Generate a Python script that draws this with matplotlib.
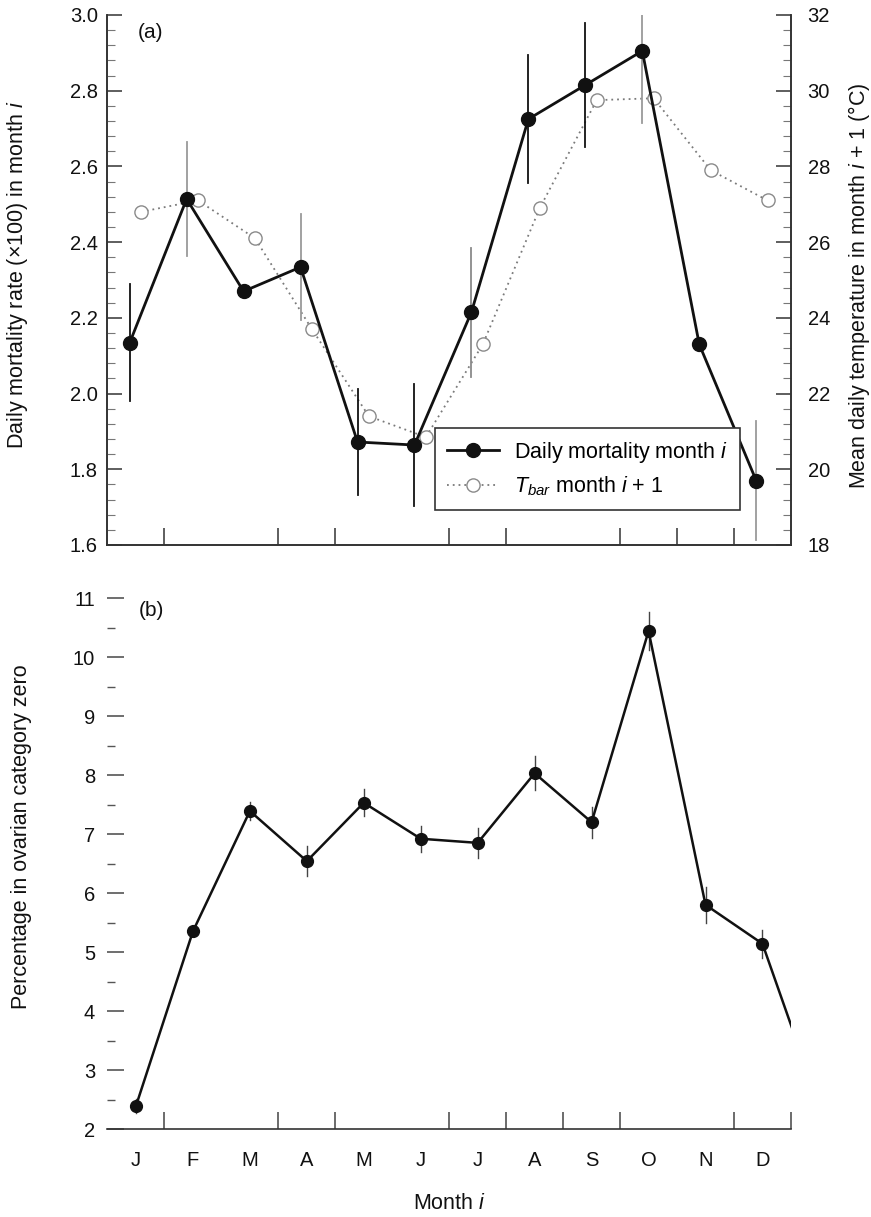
"""
Monthly mortality vs. next-month temperature (a) and the share of
females in ovarian category zero (b), two stacked panels.
"""

import numpy as np
import matplotlib.pyplot as plt
from matplotlib.ticker import MultipleLocator, FormatStrFormatter
from matplotlib.lines import Line2D

plt.rcParams["font.family"] = ["Liberation Sans", "DejaVu Sans"]
plt.rcParams["font.size"] = 14.5
plt.rcParams["mathtext.fontset"] = "custom"
plt.rcParams["mathtext.rm"] = "Liberation Sans"
plt.rcParams["mathtext.it"] = "Liberation Sans:italic"

# ── Data ──────────────────────────────────────────────────────────────

months = ["J", "F", "M", "A", "M", "J", "J", "A", "S", "O", "N", "D"]

# (a) daily mortality rate (x100) in month i, with error half-widths
mortality     = [2.134, 2.514, 2.27, 2.334, 1.872, 1.864, 2.215, 2.725, 2.815, 2.905, 2.13, 1.77]
mortality_err = [0.155, 0.15, np.nan, 0.14, 0.14, 0.16, 0.17, 0.17, 0.165, 0.19, np.nan, 0.157]

# (a) mean daily temperature in month i+1 (deg C)
t_bar = [26.8, 27.1, 26.1, 23.7, 21.4, 20.85, 23.3, 26.9, 29.75, 29.8, 27.9, 27.1]

# (b) percentage in ovarian category zero, with error half-widths
ovarian     = [2.39, 5.35, 7.39, 6.54, 7.53, 6.92, 6.85, 8.03, 7.20, 10.44, 5.80, 5.14]
ovarian_err = [0.12, np.nan, 0.15, 0.25, 0.23, 0.22, 0.25, 0.29, 0.26, 0.32, 0.3, 0.24]

# month-boundary tick marks on each panel
top_ticks = [0.5, 2.5, 3.5, 5.5, 6.5, 8.5, 9.5, 10.5]
bottom_ticks = [0.5, 2.5, 3.5, 5.5, 6.5, 7.5, 8.5, 10.5, 11.5]

# ── Styling ───────────────────────────────────────────────────────────

INK = "#111111"
SPINE = "#333333"
LABEL_SIZE = 15.5
mort_err_colors = ["#111111", "#9a9a9a", "#111111", "#9a9a9a", "#111111", "#111111",
                   "#8a8a8a", "#111111", "#111111", "#9a9a9a", "#111111", "#9a9a9a"]

x = np.arange(len(months))

fig = plt.figure(figsize=(8.71, 12.17), dpi=100)
fig.patch.set_facecolor("white")

ax = fig.add_axes([0.1234, 0.5522, 0.7847, 0.4355])
ax_t = ax.twinx()
axb = fig.add_axes([0.1234, 0.0723, 0.7847, 0.4363])

# ── Panel (a) ─────────────────────────────────────────────────────────

x_mort = x - 0.11
x_temp = x + 0.09

ax_t.plot(x_temp, t_bar, linestyle=(0, (1, 2.2)), color="#7a7a7a", linewidth=1.3,
          marker="o", markersize=9.5, markerfacecolor="white",
          markeredgecolor="#8a8a8a", markeredgewidth=1.0)

for xi, yi, ei, c in zip(x_mort, mortality, mortality_err, mort_err_colors):
    if not np.isnan(ei):
        ax.plot([xi, xi], [yi - ei, yi + ei], color=c, linewidth=1.3, zorder=2)
ax.plot(x_mort, mortality, color=INK, linewidth=2.0, marker="o",
        markersize=10, markerfacecolor=INK, markeredgecolor=INK, zorder=3)

ax.set_zorder(ax_t.get_zorder() + 1)
ax.patch.set_visible(False)

ax.set_xlim(-0.5, 11.5)
ax.set_ylim(1.6, 3.0)
ax_t.set_ylim(18, 32)

ax.yaxis.set_major_locator(MultipleLocator(0.2))
ax.yaxis.set_minor_locator(MultipleLocator(0.04))
ax.yaxis.set_major_formatter(FormatStrFormatter("%.1f"))
ax_t.yaxis.set_major_locator(MultipleLocator(2))
ax_t.yaxis.set_minor_locator(MultipleLocator(0.4))

ax.set_xticks(top_ticks)
ax.set_xticklabels([])
ax.tick_params(axis="x", direction="in", length=12, width=1.1, color=SPINE)
ax.tick_params(axis="y", which="major", direction="in", length=11, width=1.1,
               color=SPINE, pad=7, labelcolor=INK)
ax.tick_params(axis="y", which="minor", direction="in", length=6, width=0.8, color="#777777")
ax_t.tick_params(axis="y", which="major", direction="in", length=11, width=1.1,
                 color=SPINE, pad=12, labelcolor=INK)
ax_t.tick_params(axis="y", which="minor", direction="in", length=6, width=0.8, color="#777777")

for a in (ax, ax_t):
    a.spines["top"].set_visible(False)
    for s in ("left", "right", "bottom"):
        a.spines[s].set_color(SPINE)
        a.spines[s].set_linewidth(1.2)

ax.set_ylabel("Daily mortality rate (\u00d7100) in month $i$", color=INK,
              fontsize=LABEL_SIZE)
ax.yaxis.set_label_coords(-0.113, 0.51)
ax_t.set_ylabel("Mean daily temperature in month $i$ + 1 (\u00b0C)", color=INK,
                fontsize=LABEL_SIZE)
ax_t.yaxis.set_label_coords(1.08, 0.49)

ax.text(0.045, 0.985, "(a)", transform=ax.transAxes, ha="left", va="top",
        color=INK, fontsize=15)

handles = [
    Line2D([], [], color=INK, linewidth=2.0, marker="o", markersize=10,
           markerfacecolor=INK),
    Line2D([], [], linestyle=(0, (1, 2.2)), color="#7a7a7a", linewidth=1.3,
           marker="o", markersize=9.5, markerfacecolor="white",
           markeredgecolor="#8a8a8a"),
]
leg = ax.legend(handles, ["Daily mortality month $i$", "$T_{bar}$ month $i$ + 1"],
                loc="lower right", bbox_to_anchor=(0.925, 0.066), borderaxespad=0,
                fontsize=15.5, handlelength=2.4, handletextpad=0.7,
                borderpad=0.55, labelspacing=0.45, fancybox=False,
                framealpha=1, edgecolor="#333333")
leg.get_frame().set_linewidth(1.2)

# ── Panel (b) ─────────────────────────────────────────────────────────

x_wrap = np.append(x, 12)
ovarian_wrap = np.append(ovarian, ovarian[0])

for xi, yi, ei in zip(x, ovarian, ovarian_err):
    if not np.isnan(ei):
        axb.plot([xi, xi], [yi - ei, yi + ei], color="#444444", linewidth=1.0, zorder=2)
axb.plot(x_wrap, ovarian_wrap, color=INK, linewidth=1.8, zorder=3)
axb.plot(x, ovarian, linestyle="none", marker="o", markersize=8.5,
         markerfacecolor=INK, markeredgecolor=INK, zorder=4)

axb.set_xlim(-0.5, 11.5)
axb.set_ylim(2, 11)
axb.yaxis.set_major_locator(MultipleLocator(1))
axb.yaxis.set_minor_locator(MultipleLocator(0.5))

axb.set_xticks(bottom_ticks)
axb.set_xticklabels([])
axb.set_xticks(x, minor=True)
axb.set_xticklabels(months, minor=True)
axb.tick_params(axis="x", which="major", direction="in", length=12, width=1.1, color="#444444")
axb.tick_params(axis="x", which="minor", length=0, pad=16, labelcolor=INK)
axb.tick_params(axis="y", which="major", direction="in", length=12, width=1.2,
                color="#555555", pad=9, labelcolor=INK)
axb.tick_params(axis="y", which="minor", direction="in", length=6, width=1.0, color="#555555")

for s in ("left", "right", "top"):
    axb.spines[s].set_visible(False)
axb.spines["bottom"].set_color(SPINE)
axb.spines["bottom"].set_linewidth(1.2)

axb.set_ylabel("Percentage in ovarian category zero", color=INK, fontsize=LABEL_SIZE)
axb.yaxis.set_label_coords(-0.11, 0.55)
axb.text(0.046, 0.995, "(b)", transform=axb.transAxes, ha="left", va="top",
         color=INK, fontsize=15)

fig.text(0.1234 + 0.7847 / 2, 0.0107, "Month $i$", ha="center", va="center",
         color=INK, fontsize=LABEL_SIZE)

fig.savefig("out.png", dpi=100, facecolor="white")
